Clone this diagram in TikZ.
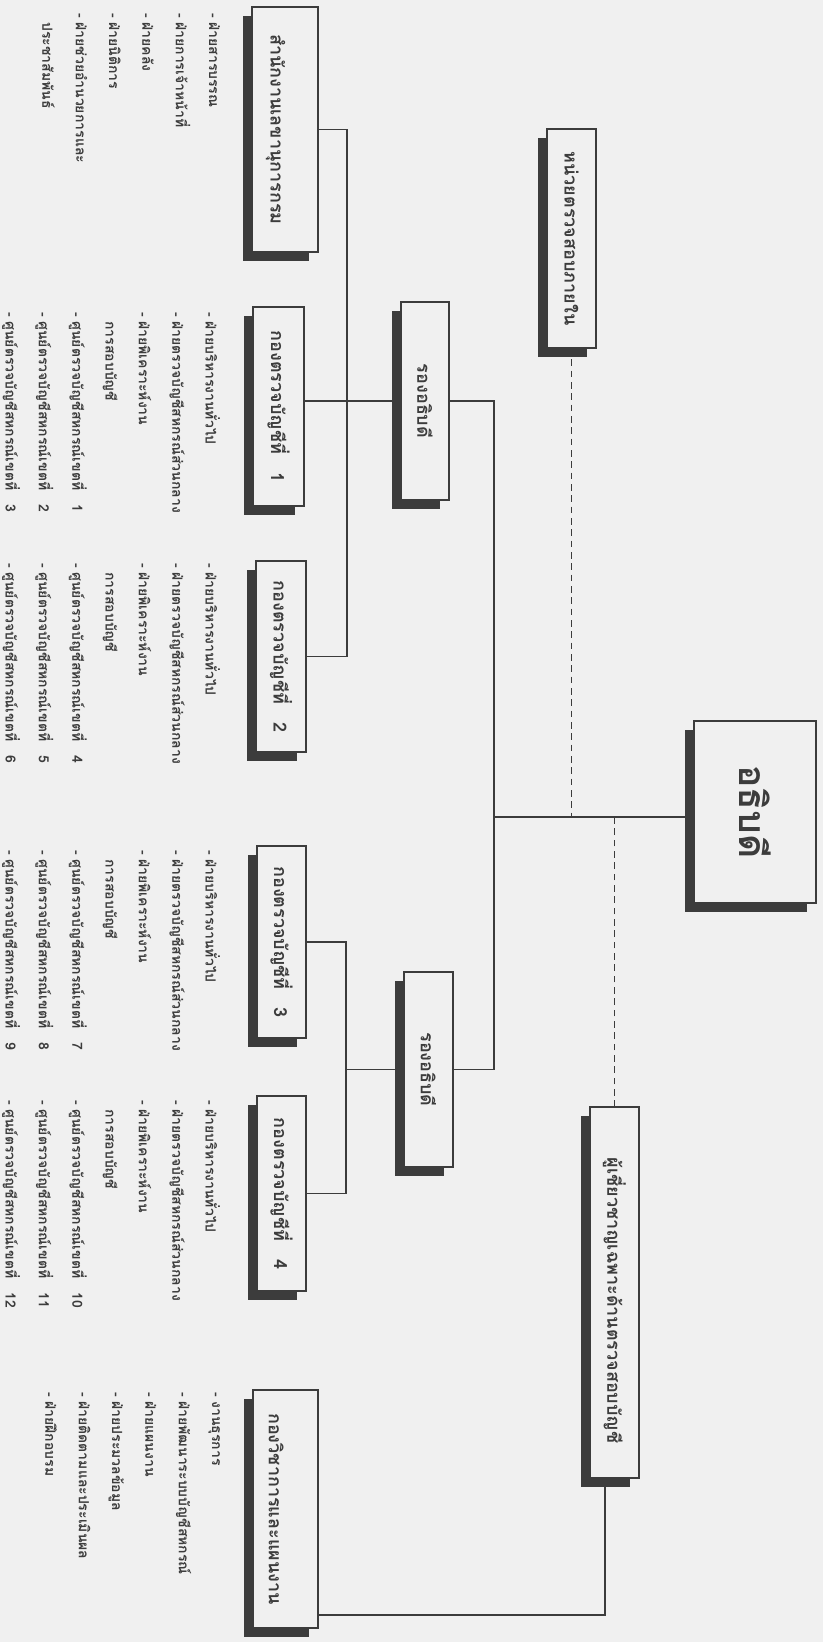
\documentclass[tikz,border=0pt]{standalone}
\usepackage{fontspec}
\newfontfamily\thai[Script=Thai]{Loma}
\usetikzlibrary{shadows}
\definecolor{paper}{HTML}{F0F0F0}
\definecolor{ink}{HTML}{3C3C3C}
\begin{document}
\begin{tikzpicture}[x=0.75pt,y=-0.75pt,
  every node/.style={inner sep=0pt, outer sep=0pt},
  unitbox/.style 2 args={draw=ink, line width=0.8pt, fill=paper,
    minimum width=#1*0.75pt, minimum height=#2*0.75pt,
    drop shadow={shadow xshift=-7pt, shadow yshift=-7pt, fill=ink, opacity=1}},
  unitname/.style={rotate=-90, text=ink, font=\thai\bfseries\fontsize{13.5}{15}\selectfont},
  duty/.style={rotate=-90, anchor=north west, align=left,
    font=\thai\bfseries\fontsize{10.5}{25}\selectfont, text=ink},
  link/.style={draw=ink, line width=1.1pt},
  staff/.style={link, dash pattern=on 5pt off 3.5pt}
]
\fill[paper] (0,0) rectangle (823,1642);
\useasboundingbox (0,0) rectangle (823,1642);

% --- unit boxes --------------------------------------------------------
\node[unitbox={122}{182}] (dir) at (755,812) {};
\node[unitbox={48}{198}] (dep1) at (425,401) {};
\node[unitbox={49}{195}] (dep2) at (428.5,1069.5) {};
\node[unitbox={49}{219}] (audit) at (571.5,238.5) {};
\node[unitbox={49}{371}] (expert) at (614.5,1292.5) {};
\node[unitbox={66}{245}] (secr) at (285,129.5) {};
\node[unitbox={51}{199}] (div1) at (278.5,406.5) {};
\node[unitbox={50}{191}] (div2) at (281,656.5) {};
\node[unitbox={49}{192}] (div3) at (281.5,942) {};
\node[unitbox={49}{195}] (div4) at (281.5,1193.5) {};
\node[unitbox={65}{238}] (plan) at (285.5,1509) {};

% --- unit names ----------------------------------------------------------
\node[unitname, font=\thai\bfseries\fontsize{28}{30}\selectfont] (dirname) at (dir.center) {อธิบดี};
\node[unitname] (dep1name) at (dep1.center) {รองอธิบดี};
\node[unitname] (dep2name) at (dep2.center) {รองอธิบดี};
\node[unitname] (auditname) at (audit.center) {หน่วยตรวจสอบภายใน};
\node[unitname] (expertname) at ([yshift=-6pt]expert.center) {ผู้เชี่ยวชาญเฉพาะด้านตรวจสอบบัญชี};
\node[unitname] (secrname) at ([xshift=-7pt]secr.center) {สำนักงานเลขานุการกรม};
\node[unitname] (div1name) at (div1.center) {กองตรวจบัญชีที่\quad 1};
\node[unitname] (div2name) at (div2.center) {กองตรวจบัญชีที่\quad 2};
\node[unitname] (div3name) at (div3.center) {กองตรวจบัญชีที่\quad 3};
\node[unitname] (div4name) at (div4.center) {กองตรวจบัญชีที่\quad 4};
\node[unitname] (planname) at ([xshift=-7pt]plan.center) {กองวิชาการและแผนงาน};

% --- lines of command ----------------------------------------------------
\coordinate (hub) at (494,817);
\draw[link] (hub) -- (hub -| dir.west);
\draw[link] (dep1.east) -| (hub) |- (dep2.east);
\draw[staff] (audit.south) -- (audit.south |- hub);
\draw[staff] (expert.north) -- (expert.north |- hub);

\coordinate (bus1) at (347,400);
\draw[link] (secr.east) -- (secr.east -| bus1) -- (div2.east -| bus1) -- (div2.east);
\draw[link] (dep1.west) -- (dep1.west -| div1.east);

\coordinate (bus2) at (346,1000);
\draw[link] (div3.east) -- (div3.east -| bus2) -- (div4.east -| bus2) -- (div4.east);
\draw[link] (dep2.west) -- (dep2.west -| bus2);

\coordinate (planjoin) at (605,1615);
\draw[link] (planjoin |- expert.south) -- (planjoin) -- (planjoin -| plan.east);

% --- sections of each unit -------------------------------------------------
\node[duty] (secrlist) at (220,13) {- ฝ่ายสารบรรณ\\- ฝ่ายการเจ้าหน้าที่\\- ฝ่ายคลัง\\- ฝ่ายนิติการ\\- ฝ่ายช่วยอำนวยการและ\\\phantom{- }ประชาสัมพันธ์};
\node[duty] (div1list) at (220,312) {- ฝ่ายบริหารงานทั่วไป\\- ฝ่ายตรวจบัญชีสหกรณ์ส่วนกลาง\\- ฝ่ายพิเคราะห์งาน\\\phantom{- }การสอบบัญชี\\- ศูนย์ตรวจบัญชีสหกรณ์เขตที่\quad 1\\- ศูนย์ตรวจบัญชีสหกรณ์เขตที่\quad 2\\- ศูนย์ตรวจบัญชีสหกรณ์เขตที่\quad 3};
\node[duty] (div2list) at (220,563) {- ฝ่ายบริหารงานทั่วไป\\- ฝ่ายตรวจบัญชีสหกรณ์ส่วนกลาง\\- ฝ่ายพิเคราะห์งาน\\\phantom{- }การสอบบัญชี\\- ศูนย์ตรวจบัญชีสหกรณ์เขตที่\quad 4\\- ศูนย์ตรวจบัญชีสหกรณ์เขตที่\quad 5\\- ศูนย์ตรวจบัญชีสหกรณ์เขตที่\quad 6};
\node[duty] (div3list) at (220,850) {- ฝ่ายบริหารงานทั่วไป\\- ฝ่ายตรวจบัญชีสหกรณ์ส่วนกลาง\\- ฝ่ายพิเคราะห์งาน\\\phantom{- }การสอบบัญชี\\- ศูนย์ตรวจบัญชีสหกรณ์เขตที่\quad 7\\- ศูนย์ตรวจบัญชีสหกรณ์เขตที่\quad 8\\- ศูนย์ตรวจบัญชีสหกรณ์เขตที่\quad 9};
\node[duty] (div4list) at (220,1100) {- ฝ่ายบริหารงานทั่วไป\\- ฝ่ายตรวจบัญชีสหกรณ์ส่วนกลาง\\- ฝ่ายพิเคราะห์งาน\\\phantom{- }การสอบบัญชี\\- ศูนย์ตรวจบัญชีสหกรณ์เขตที่\quad 10\\- ศูนย์ตรวจบัญชีสหกรณ์เขตที่\quad 11\\- ศูนย์ตรวจบัญชีสหกรณ์เขตที่\quad 12};
\node[duty] (planlist) at (220,1392) {- งานธุรการ\\- ฝ่ายพัฒนาระบบบัญชีสหกรณ์\\- ฝ่ายแผนงาน\\- ฝ่ายประมวลข้อมูล\\- ฝ่ายติดตามและประเมินผล\\- ฝ่ายฝึกอบรม};
\end{tikzpicture}
\end{document}
